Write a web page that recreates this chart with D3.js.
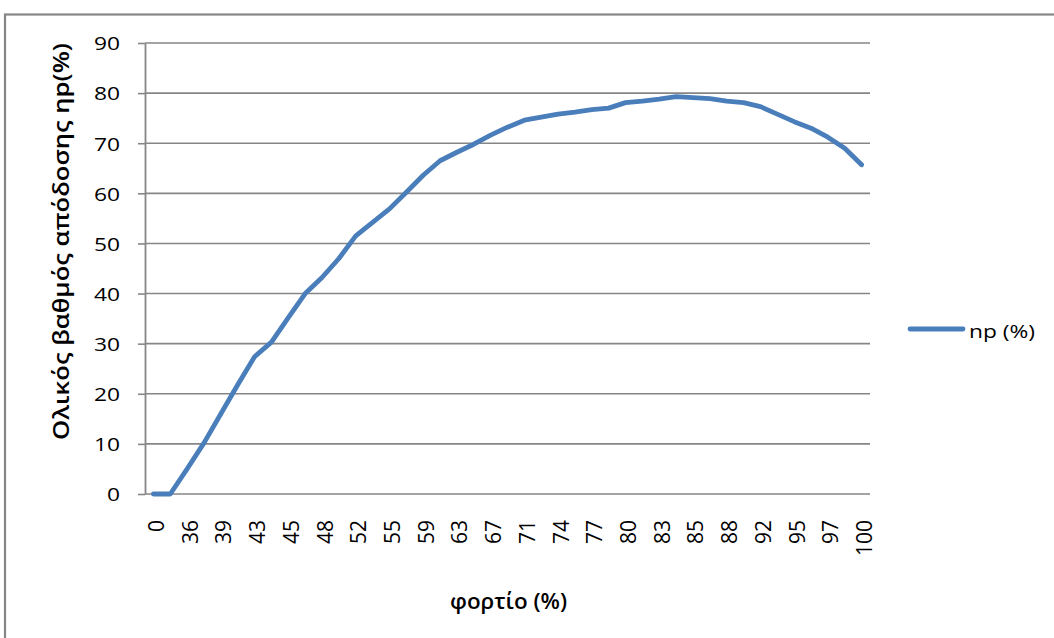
<!DOCTYPE html>
<html>
<head>
<meta charset="utf-8">
<script src="https://cdn.jsdelivr.net/npm/d3@7"></script>
<style>
  html, body { margin: 0; padding: 0; background: #fff; }
  svg { display: block; }
  text { font-family: "Open Sans", "Noto Sans", sans-serif; fill: #000; }
</style>
</head>
<body>
<svg id="chart" width="1054" height="638"></svg>
<script>
// Total efficiency (%) against load (%), one value per load step
const efficiency = [
  0, 0, 5, 10.2, 16, 21.8, 27.4, 30.3, 35.2, 40,
  43.2, 47, 51.5, 54.2, 56.9, 60.2, 63.6, 66.5, 68.2, 69.8,
  71.6, 73.2, 74.6, 75.2, 75.8, 76.2, 76.7, 77, 78.1, 78.4,
  78.8, 79.3, 79.1, 78.9, 78.4, 78.1, 77.3, 75.8, 74.3, 73,
  71.2, 69, 65.7
];
// Category labels shown on every other load step
const loadLabels = ["0", "36", "39", "43", "45", "48", "52", "55", "59", "63", "67",
                    "71", "74", "77", "80", "83", "85", "88", "92", "95", "97", "100"];
const yTicks = [0, 10, 20, 30, 40, 50, 60, 70, 80, 90];
const seriesName = "np (%)";
const xTitle = "φορτίο (%)";
const yTitle = "Ολικός βαθμός απόδοσης ηp(%)";

const svg = d3.select("#chart");
const gridColor = "#868686";
const lineColor = "#4A7EBB";

const plot = { left: 145, right: 870, top: 43, bottom: 494 };

const x = d3.scalePoint()
  .domain(d3.range(efficiency.length))
  .range([plot.left, plot.right])
  .padding(0.5);

const y = d3.scaleLinear()
  .domain([0, 90])
  .range([plot.bottom, plot.top]);

// Chart frame
svg.append("rect")
  .attr("x", 5).attr("y", 14.5)
  .attr("width", 1200).attr("height", 800)
  .attr("fill", "none")
  .attr("stroke", gridColor)
  .attr("stroke-width", 2.2);

// Horizontal gridlines
svg.append("g")
  .selectAll("line")
  .data(yTicks)
  .join("line")
  .attr("x1", plot.left).attr("x2", plot.right)
  .attr("y1", d => y(d)).attr("y2", d => y(d))
  .attr("stroke", gridColor)
  .attr("stroke-width", 1.6);

// Value axis
const yAxis = svg.append("g")
  .attr("transform", `translate(${plot.left},0)`)
  .call(d3.axisLeft(y).tickValues(yTicks).tickSize(7).tickSizeOuter(0).tickFormat(d3.format("d")));
yAxis.select(".domain").attr("stroke", gridColor).attr("stroke-width", 1.8);
yAxis.selectAll(".tick line").attr("stroke", gridColor).attr("stroke-width", 1.6);
yAxis.selectAll(".tick text")
  .attr("x", -25 / 1.2)
  .attr("dy", "0.36em")
  .attr("transform", "scale(1.2,1)")
  .style("font-size", "19px")
  .style("font-family", "\"Open Sans\", sans-serif")
  .attr("fill", "#000");

// Category labels, rotated
svg.append("g")
  .selectAll("text")
  .data(loadLabels)
  .join("text")
  .attr("transform", (d, i) => `translate(${x(i * 2)},520) rotate(-90)`)
  .attr("text-anchor", "end")
  .attr("dy", "0.5em")
  .style("font-size", "21px")
  .text(d => d);

// Efficiency line
const line = d3.line()
  .x((d, i) => x(i))
  .y(d => y(d));

svg.append("path")
  .datum(efficiency)
  .attr("d", line)
  .attr("fill", "none")
  .attr("stroke", lineColor)
  .attr("stroke-width", 4.8)
  .attr("stroke-linejoin", "round")
  .attr("stroke-linecap", "round");

// Axis titles
svg.append("text")
  .attr("x", 450).attr("y", 609)
  .attr("textLength", 117)
  .attr("lengthAdjust", "spacingAndGlyphs")
  .style("font-size", "21px")
  .style("font-weight", "600")
  .text(xTitle);

svg.append("text")
  .attr("transform", "translate(69,440) rotate(-90)")
  .attr("textLength", 397)
  .attr("lengthAdjust", "spacingAndGlyphs")
  .style("font-size", "21px")
  .style("font-weight", "600")
  .text(yTitle);

// Legend
svg.append("line")
  .attr("x1", 910).attr("x2", 963)
  .attr("y1", 329).attr("y2", 329)
  .attr("stroke", lineColor)
  .attr("stroke-width", 4.8)
  .attr("stroke-linecap", "round");

svg.append("text")
  .attr("x", 969).attr("y", 338)
  .attr("textLength", 66)
  .attr("lengthAdjust", "spacingAndGlyphs")
  .style("font-size", "19px")
  .text(seriesName);
</script>
</body>
</html>
